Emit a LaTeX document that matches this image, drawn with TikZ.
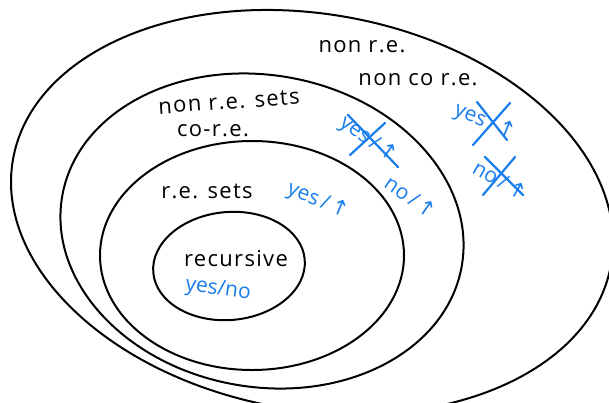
\documentclass[tikz,border=0pt]{standalone}
\usepackage{fontspec}
\setmainfont{Open Sans}
\newfontfamily\hand[LetterSpace=6]{Open Sans}
\newfontfamily\arrowfont{DejaVu Sans}
\definecolor{hblue}{RGB}{25,125,235}
\begin{document}
\begin{tikzpicture}[x=1pt,y=-1pt,
  curve/.style={line width=2pt, black},
  lbl/.style={font=\hand\fontsize{22}{24}\selectfont, inner sep=0pt},
  blbl/.style={font=\fontsize{21}{24}\selectfont, inner sep=0pt, text=hblue},
  strike/.style={hblue, line width=2.2pt, line cap=round}]
\useasboundingbox (0,0) rectangle (609,402);
\clip (0,0) rectangle (609,402);
% nested sets
\draw[curve, rotate around={-10:(312,212)}] (312,212) ellipse [x radius=303.6, y radius=198];
\draw[curve, rotate around={-10:(262,231)}] (262,231) ellipse [x radius=202.8, y radius=155.9];
\draw[curve] (252,255.5) ellipse [x radius=152, y radius=114.5];
\draw[curve, rotate around={5:(229,266)}] (229,266) ellipse [x radius=76, y radius=54];
% black labels
\node[lbl] (nonre) at (362,47) {non r.e.};
\node[lbl] (noncore) at (418,80) {non co r.e.};
\node[lbl, rotate=4] (nonresets) at (229,102) {non r.e. sets};
\node[lbl] (core) at (213,131) {co-r.e.};
\node[lbl] (resets) at (207,191) {r.e. sets};
\node[lbl] (rec) at (236,259) {recursive};
% blue labels
\node[blbl, rotate=-8] (yesno) at (218,290) {yes/no};
\node[blbl, rotate=-22] (yesup) at (318,201) {yes\,/\,{\arrowfont ↑}};
\node[blbl, rotate=-35] (noup) at (411,197) {no\,/\,{\arrowfont ↑}};
\node[blbl, rotate=-35] (xyes1) at (368,140) {yes\,/\,{\arrowfont ↑}};
\node[blbl, rotate=-22] (xyes2) at (485,122) {yes\,/\,{\arrowfont ↑}};
\node[blbl, rotate=-30] (xno) at (500,180) {no\,/\,{\arrowfont ↑}};
% strikes
\coordinate (a1) at (348,115); \coordinate (a2) at (398,167);
\coordinate (a3) at (350,155); \coordinate (a4) at (385,123);
\coordinate (b1) at (477,102); \coordinate (b2) at (507,140);
\coordinate (b3) at (510,103); \coordinate (b4) at (473,145);
\coordinate (c1) at (485,157); \coordinate (c2) at (523,195);
\coordinate (c3) at (515,157); \coordinate (c4) at (483,195);
\draw[strike] (a1) -- (a2); \draw[strike] (a3) -- (a4);
\draw[strike] (b1) -- (b2); \draw[strike] (b3) -- (b4);
\draw[strike] (c1) -- (c2); \draw[strike] (c3) -- (c4);
\end{tikzpicture}
\end{document}
